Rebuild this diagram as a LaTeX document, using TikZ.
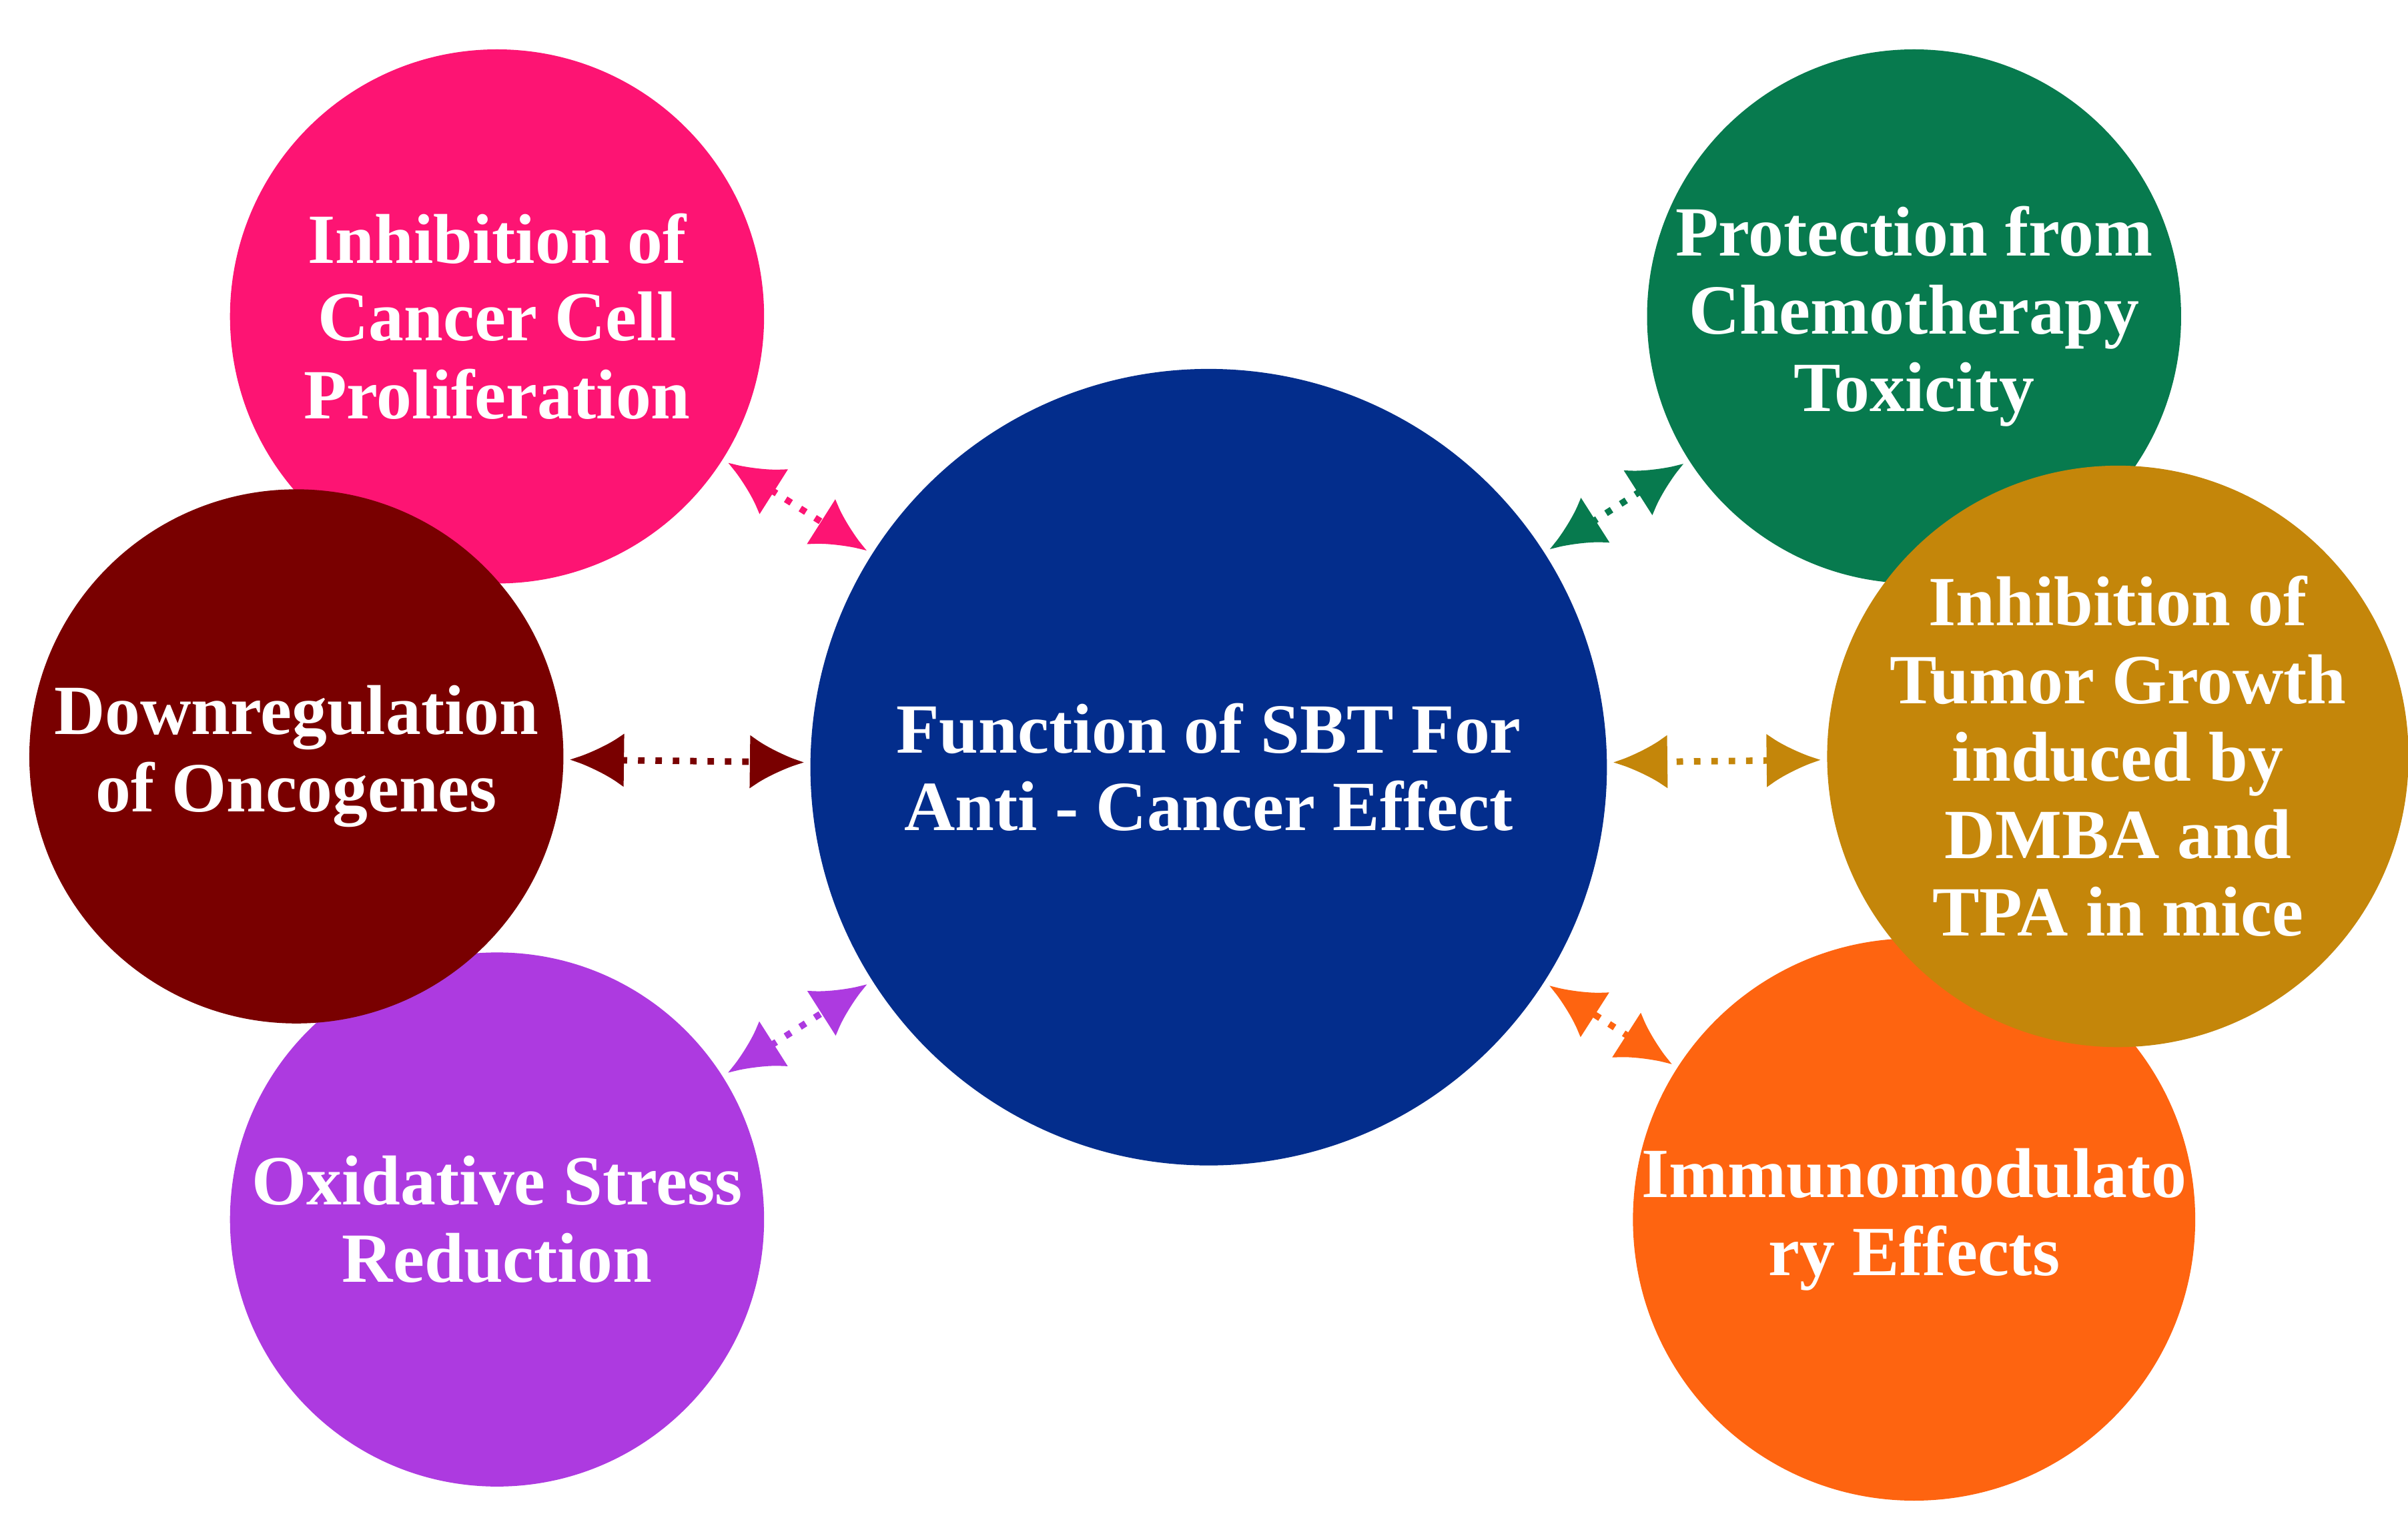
\documentclass[tikz,border=0pt]{standalone}
\usepackage{fontspec}
\setmainfont{Liberation Serif}
\usepackage{xcolor}
\usetikzlibrary{arrows.meta,positioning}
\definecolor{pinkc}{HTML}{FD1473}
\definecolor{maroonc}{HTML}{790000}
\definecolor{violetc}{HTML}{AD3AE0}
\definecolor{navyc}{HTML}{032D8C}
\definecolor{greenc}{HTML}{077A4E}
\definecolor{goldc}{HTML}{C4860A}
\definecolor{orangec}{HTML}{FE6410}
\tikzset{
  bubble/.style={circle, fill=#1, minimum size=3.46cm, inner sep=0pt, text=white,
    align=center, font=\fontsize{13}{14.3}\selectfont\bfseries},
  link/.style={very thick, dotted, draw=#1, {Latex[length=3.5mm,width=3.5mm]}-{Latex[length=3.5mm,width=3.5mm]}, shorten <=1pt, shorten >=1pt}
}
\begin{document}
\begin{tikzpicture}
  \useasboundingbox (0,0) rectangle (15.6,9.82);
  % hub
  \node[bubble=navyc, minimum size=5.16cm] (hub) at (7.83,4.85) {Function of SBT For\\Anti - Cancer Effect};
  % left side
  \node[bubble=pinkc] (prolif) at (3.22,7.77) {Inhibition of\\Cancer Cell\\Proliferation};
  \node[bubble=violetc] (oxid) at (3.22,1.92) {Oxidative Stress\\Reduction};
  \node[bubble=maroonc] (onco) at (1.92,4.92) {Downregulation\\of Oncogenes};
  % right side
  \node[bubble=greenc] (chemo) at (12.40,7.77) {Protection from\\Chemotherapy\\Toxicity};
  \node[bubble=orangec] (immuno) at (12.40,1.92) {Immunomodulato\\ry Effects};
  \node[bubble=goldc] (tumor) at (13.72,4.92) {Inhibition of\\Tumor Growth\\induced by\\DMBA and\\TPA in mice};
  % links
  \draw[link=pinkc] (prolif) -- (hub);
  \draw[link=maroonc] (onco) -- (hub);
  \draw[link=violetc] (oxid) -- (hub);
  \draw[link=greenc] (chemo) -- (hub);
  \draw[link=goldc] (tumor) -- (hub);
  \draw[link=orangec] (immuno) -- (hub);
\end{tikzpicture}
\end{document}
